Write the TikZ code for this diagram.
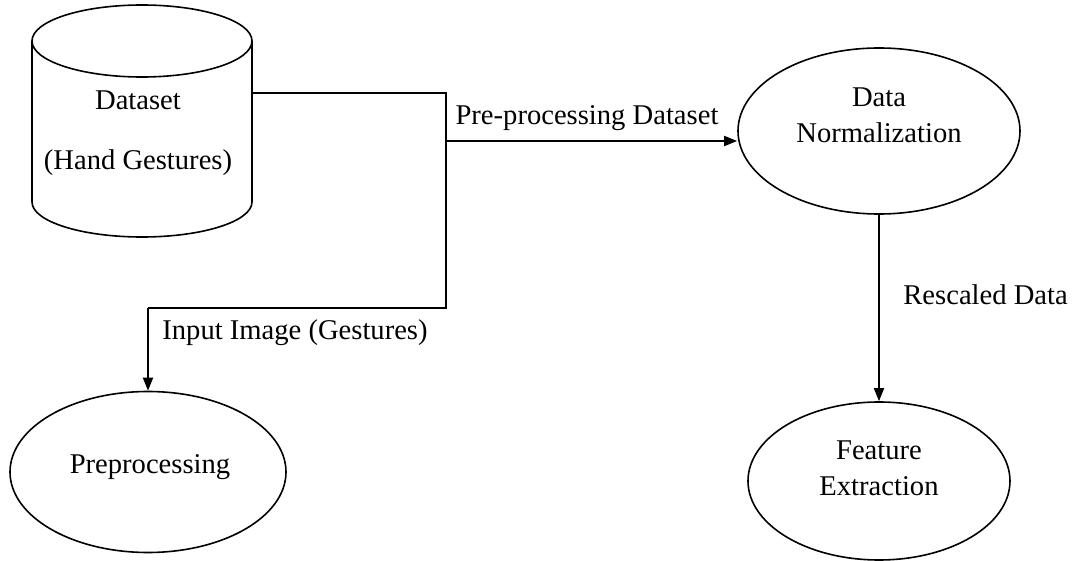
\documentclass[tikz,border=0pt]{standalone}
\usepackage{fontspec}
\setmainfont{Liberation Serif}
\usetikzlibrary{shapes.geometric,arrows.meta}
\begin{document}
\begin{tikzpicture}[x=0.5pt,y=-0.5pt,
  lbl/.style={inner sep=0pt,font=\fontsize{14.3pt}{18pt}\selectfont,align=center},
  oval/.style={ellipse,draw,line width=0.8pt,inner sep=0pt},
  conn/.style={line width=0.9pt},
  arr/.style={conn,-{Triangle[length=6.5pt,width=5pt]}}]
\useasboundingbox (0,0) rectangle (1072,561);
% cylinder
\draw[line width=0.8pt] (142,41) ellipse [x radius=55pt, y radius=18pt];
\draw[line width=0.8pt] (32,41) -- (32,202) arc[start angle=180,end angle=360,x radius=55pt,y radius=17.5pt] -- (252,41);
\node[minimum width=110pt,minimum height=116pt,inner sep=0pt] (ds) at (142,121) {};
\node[lbl] (dst1) at (138,100) {Dataset};
\node[lbl] (dst2) at (138,163) {(Hand Gestures)};
% ellipses
\node[oval,minimum width=141pt,minimum height=83pt] (norm) at (879,131) {};
\node[lbl] (normt) at (879,115) {Data\\Normalization};
\node[oval,minimum width=131pt,minimum height=79pt] (fe) at (879,481) {};
\node[lbl] (fet) at (879,468) {Feature\\Extraction};
\node[oval,minimum width=138pt,minimum height=80.5pt] (pre) at (148,472) {};
\node[lbl] (pret) at (150,467) {Preprocessing};
% junctions
\coordinate (j1) at (446,93);
\coordinate (j2) at (446,308);
\coordinate (j3) at (148,308);
\coordinate (j4) at (446,141);
% connectors
\draw[conn] (ds.east |- j1) -- (j1) -- (j2) -- (j3);
\draw[arr] (j3) -- (pre.north);
\draw[arr] (j4) -- (j4 -| norm.west);
\draw[arr] (norm.south) -- (fe.north);
% labels
\node[lbl] (l1) at (587,118) {Pre-processing Dataset};
\node[lbl] (l2) at (295,333) {Input Image (Gestures)};
\node[lbl,anchor=west] (l3) at (903,295) {Rescaled Data};
\end{tikzpicture}
\end{document}
